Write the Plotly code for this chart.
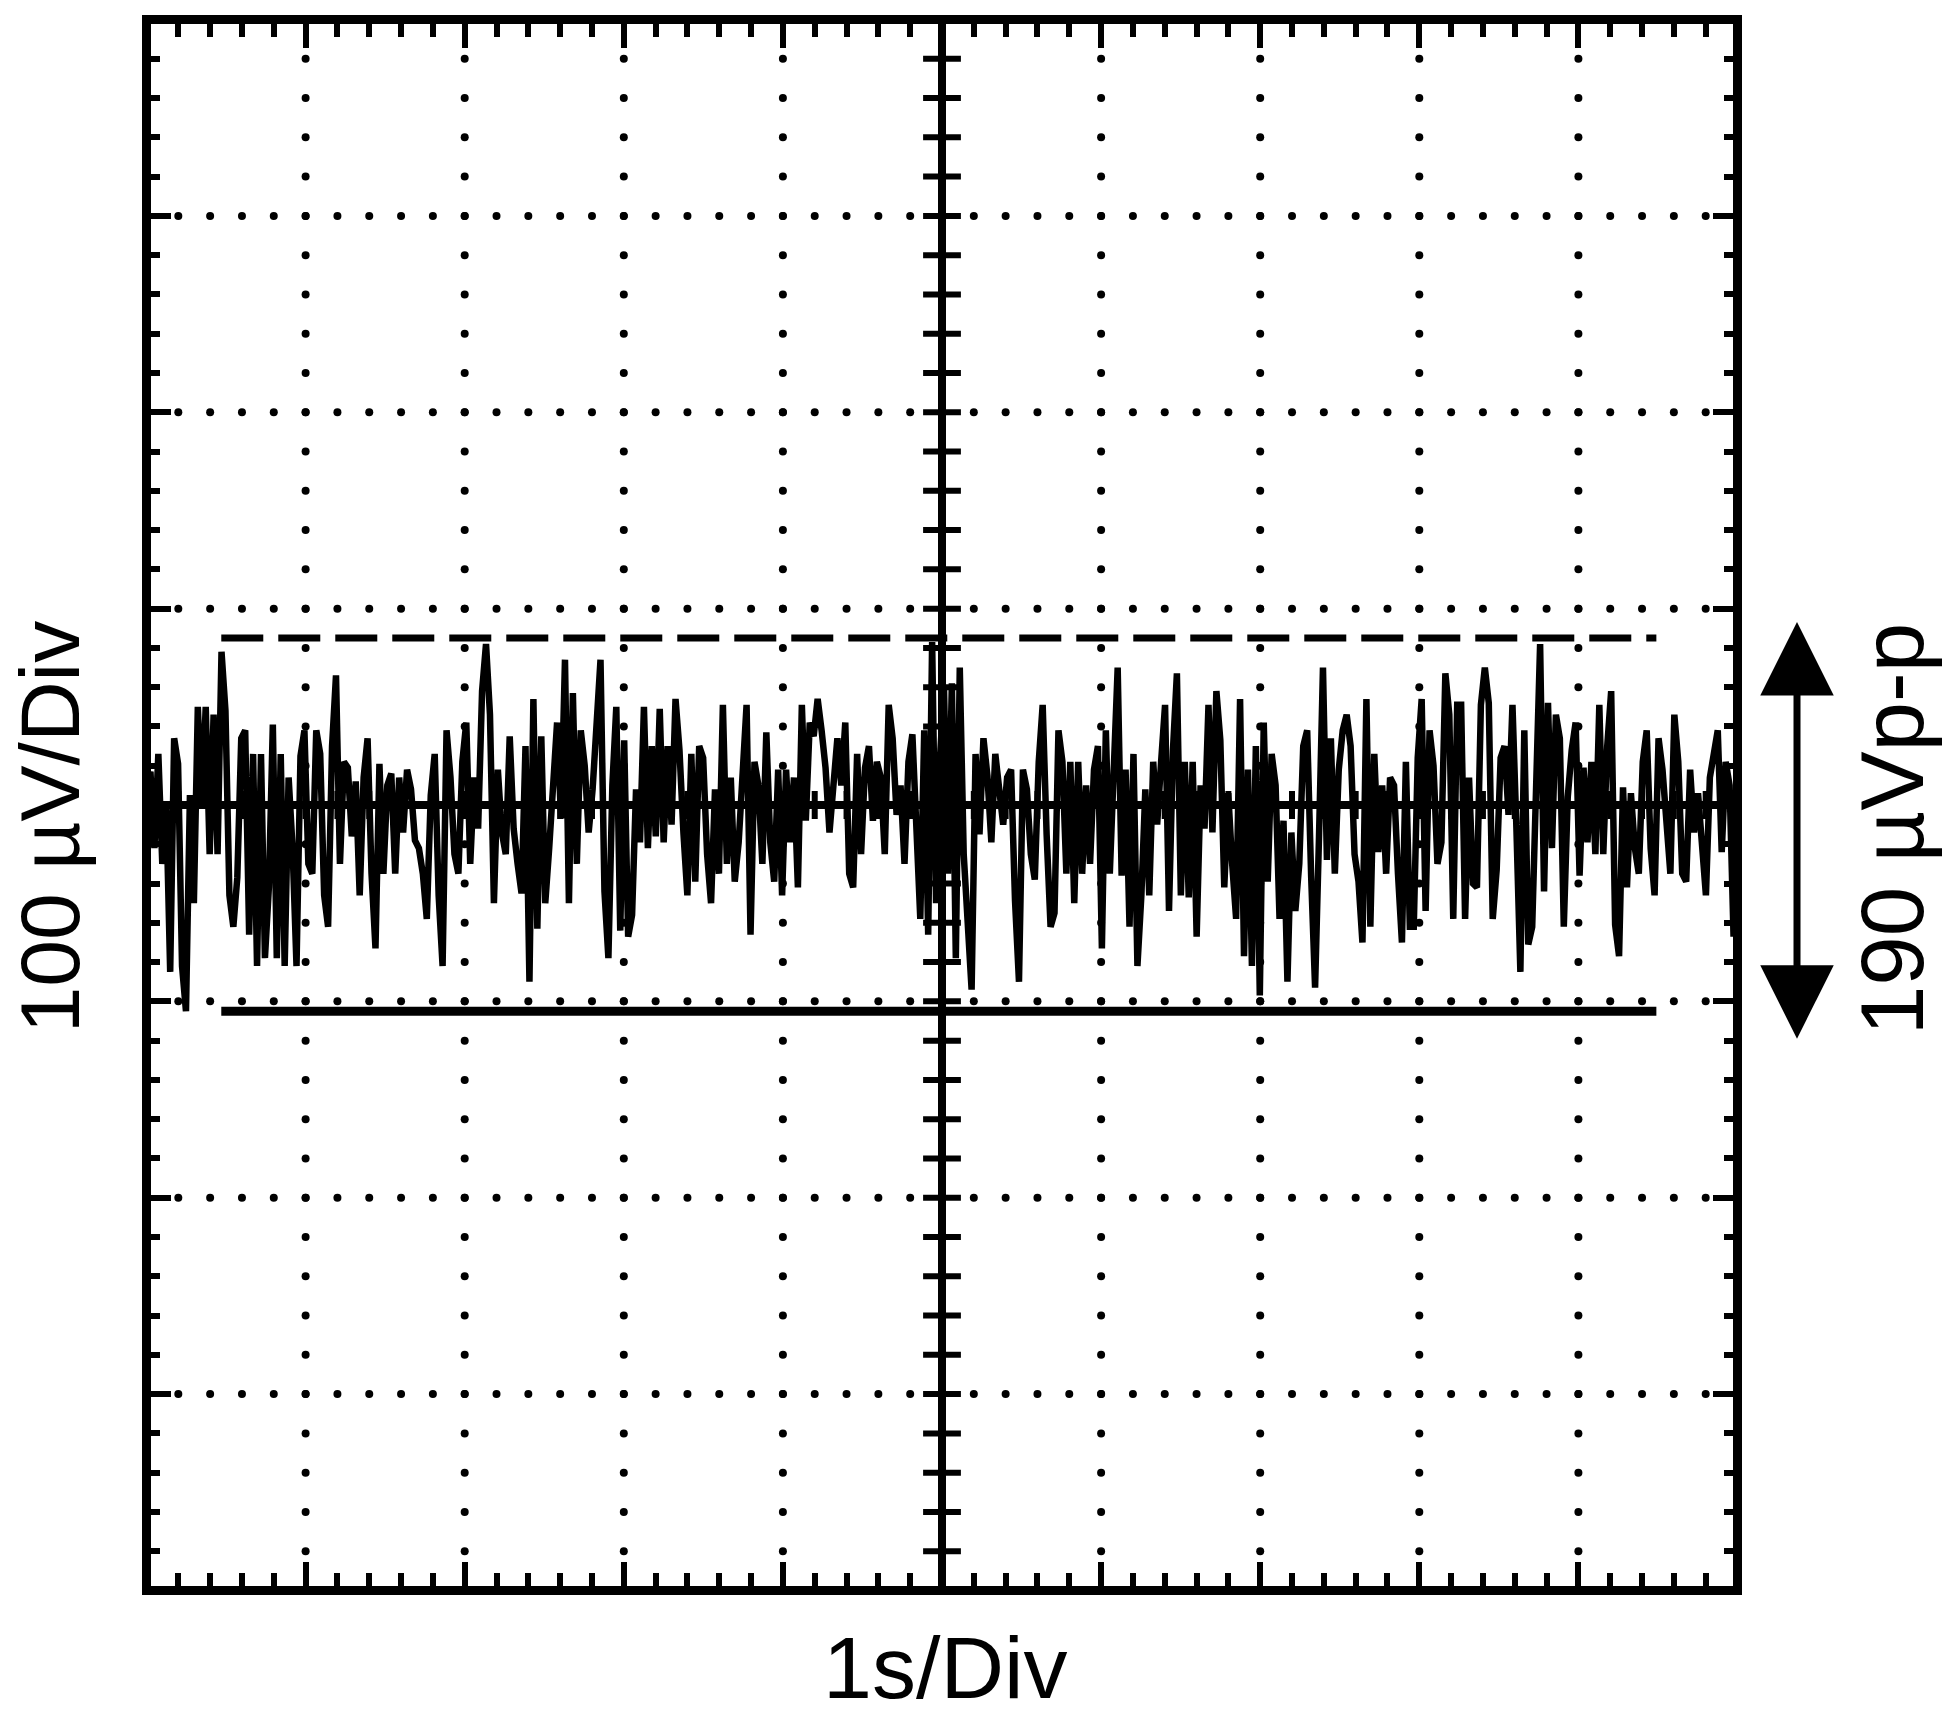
import numpy as np
import plotly.graph_objects as go

# ---------------- data ----------------
# Noise trace in µV, read left-to-right in six consecutive strips of the screen
noise_uv_part1 = [0, 17, -22, 26, -30, 0, -85, 34, 21, -82, -105, 5, -50, 50, 0, 50, -25, 46, -25, 78,
                  48, -46, -62, -37, 34, 38, -66, 26, -82, 26, -78, -42, 41, -78, 26, -82, 14, -22, -82, 25,
                  38, -30, -35, 38, 26, -46, -62, 30, 66, -30, 22, 19, -16, 12, -46, 14, 34, -35, -73, 21,
                  -35, 10]
noise_uv_part2 = [16, -35, 14, -14, 18, 8, -18, -22, -35, -58, 5, 26, -46, -82, 38, 14, -25, -35, 22, 42,
                  -30, 14, -12, 58, 82, 46, -50, 18, -14, -25, 35, -12, -30, -45, 30, -90, 54, -63, 35, -50,
                  -22, 18, 42, -7, 74, -50, 57, -30, 38, 20, -14, 8, 36, 74, -44, -78, 10, 50, -64, 33,
                  -67, -56, 8, -19, 50, -22, 30, -16]
noise_uv_part3 = [49, -19, 30, -10, 54, 28, -14, -46, 26, -39, 30, 24, -25, -50, 8, -35, 51, -30, 14, -39,
                  -19, 19, 51, -66, 22, 10, -30, 37, -19, -39, 18, -46, 18, -19, 14, -42, 51, -8, 42, 35,
                  54, 38, 19, -14, 14, 34, 10, 42, -35, -42, 26, -25, 19, 30, -8, 22, 14, -25, 51, 34,
                  -5, 10, -30, 22, 36, -20, -58, 38, -66]
noise_uv_part4 = [83, -50, 24, 60, -35, 62, -78, 70, -25, -63, -94, 26, -15, 34, 15, -19, 26, 8, -10, 14,
                  18, -49, -90, 18, 8, -25, -38, 22, 51, -15, -62, -55, 38, 22, -35, 22, -50, 22, -35, 10,
                  -30, 18, 30, -73, 38, -35, 30, 70, -36, 18, -62, 26, -82, -46, 8, -46, 22, -10, 22, 51,
                  -54, 28, 67, -46, 22]
noise_uv_part5 = [-47, 22, -67, 10, -12, 51, -14, 58, 33, -42, 6, -30, -58, 54, -77, 18, -82, 30, -97, 42,
                  -39, 26, 10, -58, -8, -90, -14, -54, -30, 30, 38, -36, -93, -16, 70, -28, 34, -35, 18, 38,
                  46, 30, -25, -39, -70, 54, -62, 26, -24, 10, -35, 14, 10, -35, -70, 22, -62, -62, 24, 54,
                  -54, 38, 20, -30, -19, 67, 46, -58, 51]
noise_uv_part6 = [51, -58, 14, -40, -42, 51, 70, 52, -58, -33, 24, 30, -5, 51, -12, -85, 38, -71, -62, 24,
                  82, -44, 52, -22, 46, 34, -62, 4, 28, 42, -36, 19, -19, 22, -25, 51, -25, 30, 58, -61,
                  -77, 9, -42, 6, -22, -35, 22, 38, -22, -46, 34, 18, -10, -35, 46, 22, -35, -39, 18, -14,
                  6, -22, -46, 14, 26, 38, -24, 22, 10, -67, 22]

noise_uv = (noise_uv_part1 + noise_uv_part2 + noise_uv_part3 +
            noise_uv_part4 + noise_uv_part5 + noise_uv_part6)
time_s = np.linspace(0.0, 10.0, len(noise_uv))   # 1 s / div, 10 divisions

peak_high_uv = 85          # dashed marker line
peak_low_uv = -105         # solid marker line (190 µVp-p between them)
peak_line_t = [0.47, 9.49]

x_major = list(range(0, 11))             # s
y_major = list(range(-400, 401, 100))    # µV (100 µV / div)
x_minor_step = 0.2
y_minor_step = 20
center_t = 5
center_uv = 0
arrow_top_uv = 94
arrow_bottom_uv = -119

# ---------------- derived graticule positions ----------------
x_minor_vals = np.round(np.arange(x_major[0] + x_minor_step, x_major[-1] - 1e-9, x_minor_step), 4)
y_minor_vals = np.arange(y_major[0] + y_minor_step, y_major[-1], y_minor_step)
x_grid = [x for x in x_major[1:-1] if x != center_t]
y_grid = [y for y in y_major[1:-1] if y != center_uv]
vx, vy = np.meshgrid(x_grid, y_minor_vals)
hx, hy = np.meshgrid(x_minor_vals, y_grid)
dot_x = np.concatenate([vx.ravel(), hx.ravel()])
dot_y = np.concatenate([vy.ravel(), hy.ravel()])

BLACK = "#000000"
FONT = "Liberation Sans, Arial, sans-serif"

# page has an 8px body margin, so the figure is 8px smaller than the window
W, H = 1942, 1724
L, R, T, B = 143, 217, 7, 146
FRAME_W = 9
plot_w, plot_h = W - L - R, H - T - B

# the frame lines sit outside the data area by half their width: widen the mapping so that
# the frame centre lines coincide with the outer graticule divisions
x_pad = (FRAME_W / 2) * (x_major[-1] - x_major[0]) / (plot_w + FRAME_W)
y_pad = (FRAME_W / 2) * (y_major[-1] - y_major[0]) / (plot_h + FRAME_W)

fig = go.Figure()

# dotted graticule
fig.add_trace(go.Scatter(x=dot_x, y=dot_y, mode="markers",
                         marker=dict(symbol="circle", size=8, color=BLACK, line=dict(width=0)),
                         hoverinfo="skip"))
# center cross lines
fig.add_trace(go.Scatter(x=[x_major[0], x_major[-1]], y=[center_uv, center_uv], mode="lines",
                         line=dict(color=BLACK, width=8), hoverinfo="skip"))
fig.add_trace(go.Scatter(x=[center_t, center_t], y=[y_major[0], y_major[-1]], mode="lines",
                         line=dict(color=BLACK, width=8), hoverinfo="skip"))
# center cross tick marks
fig.add_trace(go.Scatter(x=x_minor_vals, y=[center_uv] * len(x_minor_vals), mode="markers",
                         marker=dict(symbol="line-ns", size=20, line=dict(width=6, color=BLACK)),
                         hoverinfo="skip"))
fig.add_trace(go.Scatter(x=[center_t] * len(y_minor_vals), y=y_minor_vals, mode="markers",
                         marker=dict(symbol="line-ew", size=27, line=dict(width=6, color=BLACK)),
                         hoverinfo="skip"))
# noise trace
fig.add_trace(go.Scatter(x=time_s, y=noise_uv, mode="lines",
                         line=dict(color=BLACK, width=6.5), hoverinfo="skip"))
# peak-to-peak marker lines
fig.add_trace(go.Scatter(x=peak_line_t, y=[peak_high_uv] * 2, mode="lines",
                         line=dict(color=BLACK, width=7, dash="42px,15px"), hoverinfo="skip"))
fig.add_trace(go.Scatter(x=peak_line_t, y=[peak_low_uv] * 2, mode="lines",
                         line=dict(color=BLACK, width=9), hoverinfo="skip"))

axis_common = dict(showline=True, linecolor=BLACK, linewidth=FRAME_W, mirror="allticks",
                   ticks="inside", tickcolor=BLACK, tickwidth=6,
                   showticklabels=False, showgrid=False, zeroline=False, fixedrange=True)

fig.update_xaxes(range=[x_major[0] + x_pad, x_major[-1] - x_pad], tick0=0, dtick=1, ticklen=24,
                 minor=dict(ticks="inside", dtick=x_minor_step, tick0=0, ticklen=13,
                            tickwidth=6, tickcolor=BLACK, showgrid=False),
                 **axis_common)
fig.update_yaxes(range=[y_major[0] + y_pad, y_major[-1] - y_pad], tick0=0, dtick=100, ticklen=20,
                 minor=dict(ticks="inside", dtick=y_minor_step, tick0=0, ticklen=9,
                            tickwidth=6, tickcolor=BLACK, showgrid=False),
                 **axis_common)


def px_x(p):
    return (p - L) / plot_w


def px_y(p):
    return (H - B - p) / plot_h


annotations = [
    dict(text="1s/Div", x=px_x(937), y=px_y(1660), xref="paper", yref="paper",
         xanchor="center", yanchor="middle", showarrow=False,
         font=dict(family=FONT, size=88, color=BLACK)),
    dict(text="100 µV/Div", x=px_x(42), y=px_y(815), xref="paper", yref="paper",
         xanchor="center", yanchor="middle", showarrow=False, textangle=-90,
         font=dict(family=FONT, size=84, color=BLACK)),
    dict(text="190 µVp-p", x=px_x(1884), y=px_y(817), xref="paper", yref="paper",
         xanchor="center", yanchor="middle", showarrow=False, textangle=-90,
         font=dict(family=FONT, size=89, color=BLACK)),
    dict(text="", x=px_x(1789), y=arrow_bottom_uv, xref="paper", yref="y",
         ax=0, ay=arrow_top_uv, axref="pixel", ayref="y",
         showarrow=True, arrowside="end+start", arrowhead=2, startarrowhead=2,
         arrowsize=2.1, startarrowsize=2.1, arrowwidth=7, arrowcolor=BLACK,
         standoff=0, startstandoff=0),
]

fig.update_layout(width=W, height=H, margin=dict(l=L, r=R, t=T, b=B, pad=0),
                  paper_bgcolor="white", plot_bgcolor="white", showlegend=False,
                  annotations=annotations)

fig.write_html("out.html")
